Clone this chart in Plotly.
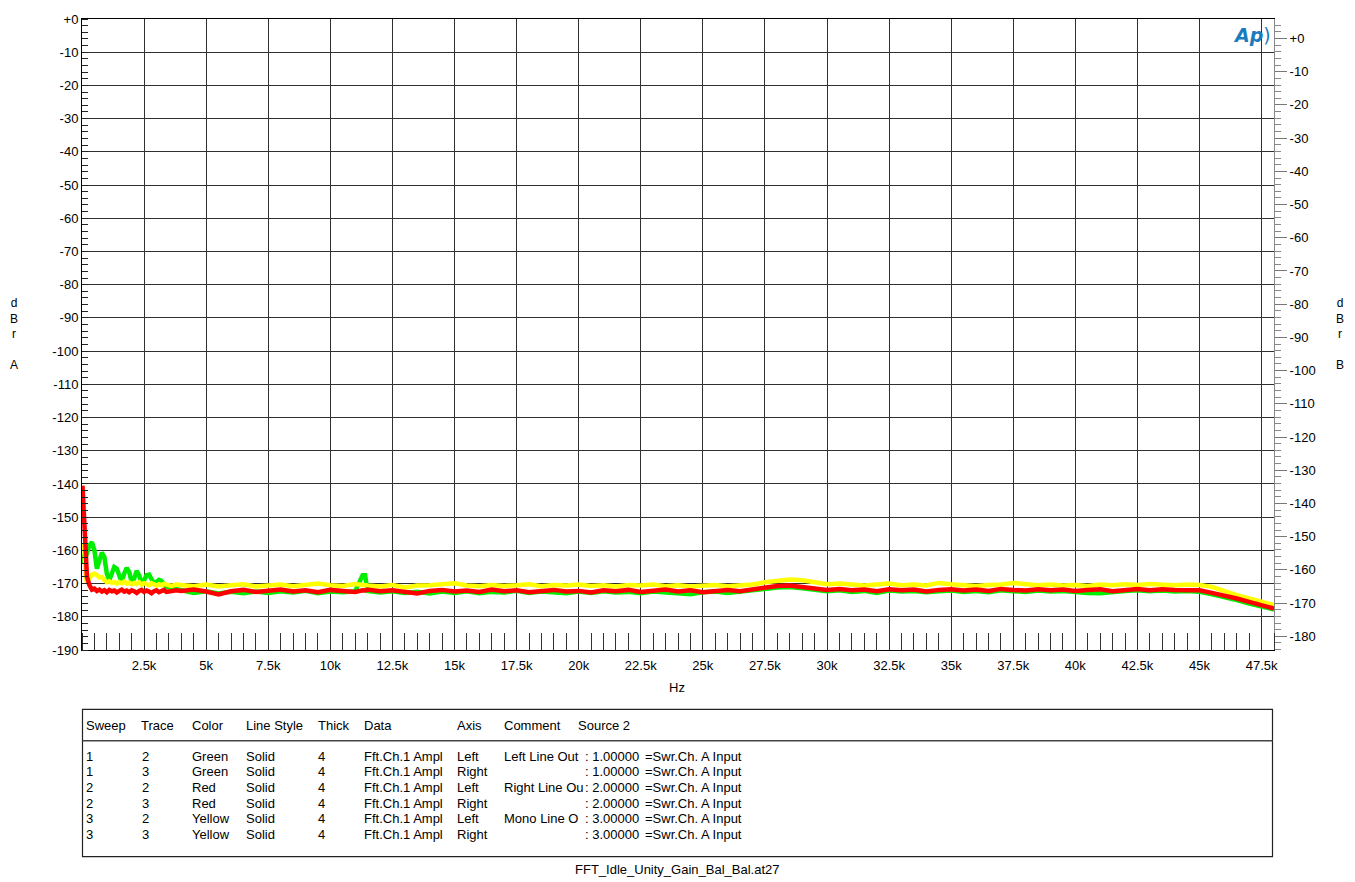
import plotly.graph_objects as go

# ---------------- data (kHz, dBr) ----------------
freq_khz = [0.02, 0.05, 0.1, 0.15, 0.2, 0.3, 0.4, 0.5, 0.6, 0.7, 0.8, 0.9, 1.0, 1.1, 1.2, 1.3, 1.4, 1.5, 1.6, 1.7,
            1.8, 1.9, 2.0, 2.1, 2.2, 2.3, 2.4, 2.5, 2.6, 2.7, 2.8, 2.9, 3.0, 3.1, 3.2, 3.3, 3.4, 3.6, 3.8,
            4.0, 4.5, 5.0, 5.5, 6.0, 6.5, 7.0, 7.5, 8.0, 8.5, 9.0, 9.5, 10.0, 10.5, 11.0, 11.3, 11.4, 11.5,
            12.0, 12.5, 13.0, 13.5, 14.0, 14.5, 15.0, 15.5, 16.0, 16.5, 17.0, 17.5, 18.0, 18.5, 19.0, 19.5,
            20.0, 20.5, 21.0, 21.5, 22.0, 22.5, 23.0, 23.5, 24.0, 24.5, 25.0, 25.5, 26.0, 26.5, 27.0, 27.5,
            28.0, 28.5, 29.0, 29.5, 30.0, 30.5, 31.0, 31.5, 32.0, 32.5, 33.0, 33.5, 34.0, 34.5, 35.0, 35.5,
            36.0, 36.5, 37.0, 37.5, 38.0, 38.5, 39.0, 39.5, 40.0, 40.5, 41.0, 41.5, 42.0, 42.5, 43.0, 43.5,
            44.0, 44.5, 45.0, 45.5, 46.0, 46.5, 47.0, 47.5, 48.0]

green_db = [-161.0, -162.5, -164.0, -162.0, -160.5, -158.5, -157.5, -160.0, -165.5, -162.5, -160.7, -162.0, -167.0, -169.0,
            -166.5, -165.0, -165.5, -167.5, -169.5, -167.0, -165.3, -166.5, -169.5, -168.5, -166.2, -167.5, -170.0,
            -169.0, -167.5, -167.3, -169.0, -170.0, -169.5, -168.9, -169.2, -170.3, -171.0, -171.3, -171.5,
            -172.0, -172.8, -172.3, -173.0, -172.5, -172.9, -172.4, -172.8, -172.3, -172.7, -172.2, -172.9, -172.4,
            -172.6, -172.3, -167.5, -167.5, -172.2,
            -172.7, -172.3, -172.8, -172.5, -173.0, -172.4, -172.8, -172.3, -172.9, -172.5, -172.7, -172.2, -172.8,
            -172.4, -172.6, -172.9, -172.4, -172.8, -172.3, -172.7, -172.5, -172.9, -172.4, -172.7, -172.9, -173.2,
            -172.6, -172.4, -172.8, -172.3, -172.1, -171.6, -171.2, -171.0, -171.4, -171.9, -172.3, -172.0, -172.5,
            -172.2, -172.8, -172.1, -172.4, -172.2, -172.6, -172.3, -172.1, -172.5, -172.2, -172.6, -172.0, -172.3,
            -172.5, -172.1, -172.4, -172.2, -172.6, -172.8, -172.9, -172.4, -172.2, -172.0, -172.3, -172.1, -172.4,
            -172.2, -172.5, -173.2, -174.0, -175.0, -176.0, -177.0, -177.8]

red_db = [-140.5, -145.0, -155.0, -163.0, -168.0, -170.5, -171.8, -171.5, -172.2, -171.8, -172.4, -172.0, -172.6, -171.9,
          -172.3, -172.1, -172.7, -172.2, -171.8, -172.4, -172.1, -172.6, -172.0, -172.3, -172.8, -172.2, -171.9,
          -172.5, -172.1, -172.4, -172.9, -172.3, -172.0, -172.6, -172.2, -171.9, -172.5, -172.3, -172.0,
          -172.2, -171.8, -172.4, -173.3, -172.3, -171.9, -172.5, -172.1, -171.8, -172.4, -172.0, -172.6, -171.9,
          -172.2, -172.5, -172.0, -172.1, -171.8,
          -172.3, -172.0, -172.6, -173.0, -172.2, -171.9, -172.4, -172.1, -172.5, -171.8, -172.3, -172.0, -172.6,
          -172.1, -171.9, -172.4, -172.2, -172.7, -172.0, -172.3, -171.9, -172.5, -172.1, -171.8, -172.4, -172.0,
          -172.6, -172.2, -171.9, -172.3, -171.8, -171.2, -170.7, -170.6, -171.0, -171.5, -171.9, -171.6, -172.0,
          -171.8, -172.3, -171.7, -172.0, -171.8, -172.4, -171.9, -171.7, -172.1, -171.8, -172.2, -171.6, -171.9,
          -172.1, -171.7, -172.0, -171.8, -172.2, -171.9, -171.7, -172.3, -171.8, -171.6, -172.0, -171.7, -171.9,
          -171.8, -172.0, -172.8, -173.5, -174.5, -175.5, -176.6, -177.5]

yellow_db = [-158.0, -159.0, -159.5, -168.0, -169.6, -168.5, -167.3, -167.0, -167.4, -168.2, -168.0, -169.0, -169.6, -169.3,
             -169.8, -169.5, -170.0, -169.6, -169.9, -169.4, -170.0, -169.7, -170.2, -169.8, -170.1, -169.6, -170.3,
             -169.9, -170.2, -170.5, -169.9, -170.3, -170.6, -170.2, -170.5, -170.1, -170.4, -170.7, -170.3,
             -170.4, -170.8, -170.3, -170.9, -170.5, -170.2, -170.9, -170.6, -170.3, -170.8, -170.4, -170.0, -170.5,
             -170.7, -170.1, -170.5, -170.4, -170.6,
             -170.9, -170.4, -171.2, -170.6, -170.5, -170.3, -169.9, -170.6, -170.8, -170.4, -170.7, -170.5, -170.2,
             -170.8, -170.4, -170.6, -170.3, -170.7, -170.5, -170.9, -170.4, -170.6, -170.3, -170.8, -170.5, -170.9,
             -170.6, -170.4, -170.8, -170.5, -170.3, -169.6, -169.1, -168.8, -169.0, -169.7, -170.2, -170.0, -170.4,
             -170.6, -170.3, -170.0, -170.5, -170.3, -170.6, -169.8, -170.2, -170.5, -170.7, -170.4, -170.3, -169.8,
             -170.2, -170.5, -170.3, -170.6, -170.4, -170.7, -170.3, -170.5, -170.2, -170.4, -170.1, -170.3, -170.5,
             -170.3, -170.4, -171.0, -172.3, -173.5, -174.5, -175.6, -176.5]

left_ticks = [0, -10, -20, -30, -40, -50, -60, -70, -80, -90, -100, -110, -120, -130, -140, -150, -160, -170, -180, -190]
right_ticks = [0, -10, -20, -30, -40, -50, -60, -70, -80, -90, -100, -110, -120, -130, -140, -150, -160, -170, -180]
x_ticks = [2.5, 5, 7.5, 10, 12.5, 15, 17.5, 20, 22.5, 25, 27.5, 30, 32.5, 35, 37.5, 40, 42.5, 45, 47.5]
x_tick_text = ["2.5k", "5k", "7.5k", "10k", "12.5k", "15k", "17.5k", "20k", "22.5k", "25k", "27.5k", "30k",
               "32.5k", "35k", "37.5k", "40k", "42.5k", "45k", "47.5k"]

table_header = ["Sweep", "Trace", "Color", "Line Style", "Thick", "Data", "Axis", "Comment", "Source 2"]
table_rows = [
    ["1", "2", "Green", "Solid", "4", "Fft.Ch.1 Ampl", "Left", "Left Line Out", ": 1.00000", "=Swr.Ch. A Input"],
    ["1", "3", "Green", "Solid", "4", "Fft.Ch.1 Ampl", "Right", "", ": 1.00000", "=Swr.Ch. A Input"],
    ["2", "2", "Red", "Solid", "4", "Fft.Ch.1 Ampl", "Left", "Right Line Ou", ": 2.00000", "=Swr.Ch. A Input"],
    ["2", "3", "Red", "Solid", "4", "Fft.Ch.1 Ampl", "Right", "", ": 2.00000", "=Swr.Ch. A Input"],
    ["3", "2", "Yellow", "Solid", "4", "Fft.Ch.1 Ampl", "Left", "Mono Line O", ": 3.00000", "=Swr.Ch. A Input"],
    ["3", "3", "Yellow", "Solid", "4", "Fft.Ch.1 Ampl", "Right", "", ": 3.00000", "=Swr.Ch. A Input"],
]
footer = "FFT_Idle_Unity_Gain_Bal_Bal.at27"

# ---------------- layout geometry ----------------
W, H = 1355, 882
X0, X1 = 82, 1274
Y0, Y1 = 13, 650


def px(x):
    return (x - X0) / (X1 - X0)


def py(y):
    return (Y1 - y) / (Y1 - Y0)


FONT = "Liberation Sans, Arial, sans-serif"

fig = go.Figure()
fig.add_trace(go.Scatter(x=freq_khz, y=green_db, mode="lines", line=dict(color="#00ee00", width=4.5),
                         showlegend=False, hoverinfo="skip"))
fig.add_trace(go.Scatter(x=freq_khz, y=yellow_db, mode="lines", line=dict(color="#ffff00", width=4.5),
                         showlegend=False, hoverinfo="skip"))
fig.add_trace(go.Scatter(x=freq_khz, y=red_db, mode="lines", line=dict(color="#ff0000", width=4.5),
                         showlegend=False, hoverinfo="skip"))
fig.add_trace(go.Scatter(x=[None], y=[None], yaxis="y2", mode="lines", showlegend=False, hoverinfo="skip"))

grid_col = "#303030"
fig.update_layout(
    width=W, height=H, autosize=False,
    margin=dict(l=X0, r=W - X1, t=Y0, b=H - Y1, pad=0),
    paper_bgcolor="white", plot_bgcolor="white",
    font=dict(family=FONT, size=13, color="black"),
    xaxis=dict(range=[0, 48], tickvals=x_ticks, ticktext=x_tick_text, ticks="outside", ticklen=3,
               tickcolor="rgba(0,0,0,0)", showgrid=True,
               gridcolor=grid_col, gridwidth=1, showline=True, linecolor="black", linewidth=1, mirror=True,
               zeroline=False, tickfont=dict(size=13),
               minor=dict(ticks="inside", ticklen=17, dtick=0.5, tick0=0, tickcolor="#333", tickwidth=1,
                          showgrid=False)),
    yaxis=dict(range=[-190, 0], tickvals=left_ticks, ticktext=["+0"] + [str(v) for v in left_ticks[1:]],
               ticks="", showgrid=True, gridcolor=grid_col, gridwidth=1, showline=True, linecolor="black",
               linewidth=1, zeroline=False, tickfont=dict(size=13),
               minor=dict(ticks="inside", ticklen=6, dtick=2, tick0=0, tickcolor="#222", tickwidth=1,
                          showgrid=False)),
    yaxis2=dict(range=[-184.125, 5.875], overlaying="y", side="right", tickvals=right_ticks,
                ticktext=["+0"] + [str(v) for v in right_ticks[1:]], ticks="outside", ticklen=12,
                tickcolor="#777", showgrid=False, showline=True, linecolor="#888", linewidth=1,
                zeroline=False, tickfont=dict(size=13),
                minor=dict(ticks="outside", ticklen=6, dtick=2, tick0=0, tickcolor="#888", tickwidth=1)),
)

ann = []
# axis titles
ann.append(dict(x=px(14), y=py(331), text="d<br>B<br>r<br> <br>A", xanchor="center", yanchor="middle",
                font=dict(size=12)))
ann.append(dict(x=px(1340), y=py(331), text="d<br>B<br>r<br> <br>B", xanchor="center", yanchor="middle",
                font=dict(size=12)))
ann.append(dict(x=px(677), y=py(688), text="Hz", xanchor="center", yanchor="middle", font=dict(size=13)))
# logo
ann.append(dict(x=px(1252), y=py(29), text="<b><i>Ap</i></b>)", xanchor="center", yanchor="middle",
                font=dict(size=19, color="#1b7bbf", family="DejaVu Sans")))

# table
header_x = [84, 139, 190, 244, 316, 362, 455, 502, 576]
row_x = [84, 140, 190, 244, 316, 362, 455, 502, 583, 643]
row_y = [758, 773, 789, 805, 820, 836]
for tx, t in zip(header_x, table_header):
    ann.append(dict(x=px(tx), y=py(726), text=t, xanchor="left", yanchor="middle", font=dict(size=13)))
for ry, row in zip(row_y, table_rows):
    for tx, t in zip(row_x, row):
        if t:
            ann.append(dict(x=px(tx), y=py(ry), text=t, xanchor="left", yanchor="middle", font=dict(size=13)))
ann.append(dict(x=px(677), y=py(872), text=footer, xanchor="center", yanchor="middle", font=dict(size=13)))

for a in ann:
    a.update(xref="paper", yref="paper", showarrow=False)
fig.update_layout(annotations=ann)

shapes = [
    dict(type="rect", x0=px(82.5), x1=px(1272.5), y0=py(710), y1=py(858.5), line=dict(color="#222", width=1.2)),
    dict(type="line", x0=px(82.5), x1=px(1272.5), y0=py(741.5), y1=py(741.5), line=dict(color="#444", width=1.5)),
]
for s in shapes:
    s.update(xref="paper", yref="paper")
fig.update_layout(shapes=shapes)

fig.write_html("out.html", config={"displayModeBar": False},
               post_script="document.body.style.margin='0';document.body.style.overflow='hidden';")
